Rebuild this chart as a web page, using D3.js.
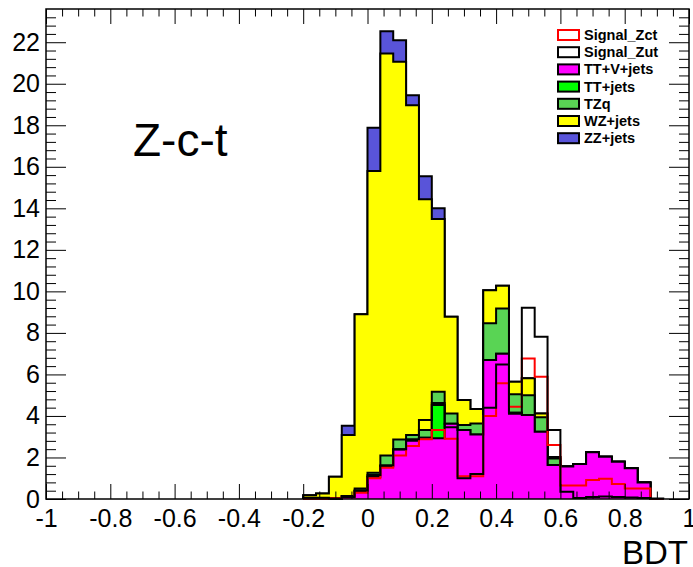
<!DOCTYPE html>
<html>
<head>
<meta charset="utf-8">
<script src="https://cdn.jsdelivr.net/npm/d3@7"></script>
<style>
  body { margin: 0; background: #fff; }
  svg { display: block; }
  text { font-family: "Liberation Sans", Arial, Helvetica, sans-serif; }
</style>
</head>
<body>
<svg id="chart" width="693" height="567"></svg>
<script>
// BDT output histograms, 0.04-wide bins (lower edges listed)
const binLow = [-0.20, -0.16, -0.12, -0.08, -0.04, 0.00, 0.04, 0.08, 0.12, 0.16,
                 0.20,  0.24,  0.28,  0.32,  0.36, 0.40, 0.44, 0.48, 0.52, 0.56,
                 0.60,  0.64,  0.68,  0.72,  0.76, 0.80, 0.84, 0.88];
const binWidth = 0.04;

// Backgrounds (stacked, bottom to top)
const ttvJets = [0, 0, 0, 0.15, 0.38, 1.07, 1.58, 2.38, 2.80, 2.95,
                 2.92, 3.62, 3.32, 3.11, 6.69, 7.00, 4.15, 4.04, 3.24, 1.64,
                 1.56, 1.68, 2.25, 2.04, 1.80, 1.48, 0.79, 0];
const ttJets  = [0, 0, 0, 0, 0, 0, 0, 0, 0, 0,
                 1.70, 0, 0, 0, 0, 0, 0, 0, 0, 0,
                 0, 0, 0, 0, 0, 0, 0, 0];
const tzq     = [0, 0, 0, 0, 0.12, 0.20, 0.52, 0.48, 0.28, 0.37,
                 0.55, 0.50, 0.24, 0.53, 1.77, 2.18, 0.90, 0.96, 0.70, 0.31,
                 0, 0, 0, 0, 0, 0, 0, 0];
const wzJets  = [0.18, 0.27, 1.07, 2.93, 8.40, 14.53, 19.36, 18.20, 15.89, 11.12,
                 8.31, 4.66, 1.21, 0.70, 1.60, 1.09, 0.60, 0.81, 0.18, 0.07,
                 0, 0, 0, 0, 0, 0, 0, 0];
const zzJets  = [0, 0, 0, 0.45, 0, 2.08, 1.07, 1.04, 0.48, 1.11,
                 0.52, 0, 0, 0, 0, 0, 0, 0, 0, 0,
                 0, 0, 0, 0, 0, 0, 0, 0];

// Signals (drawn as outlines)
const signalZct = [0, 0, 0.05, 0.08, 0.30, 1.00, 1.50, 2.10, 2.55, 2.88,
                   3.32, 2.90, 1.10, 1.10, 4.00, 5.57, 4.44, 6.77, 5.89, 2.60,
                   0.65, 0.65, 0.91, 0.98, 0.72, 0.51, 0.51, 0];
const signalZut = [0.06, 0.06, 0.03, 0.10, 0.42, 1.15, 1.62, 2.40, 2.88, 3.80,
                   4.53, 3.45, 1.00, 1.20, 4.40, 6.48, 4.10, 9.21, 7.82, 3.32,
                   0.35, 0.05, 0.10, 0.12, 0.10, 0.07, 0.05, 0.03];

const xTicks = [-1, -0.8, -0.6, -0.4, -0.2, 0, 0.2, 0.4, 0.6, 0.8, 1];
const yTicks = [0, 2, 4, 6, 8, 10, 12, 14, 16, 18, 20, 22];
const xTitle = "BDT";
const channelLabel = "Z-c-t";

const stackKeys   = ["ttv", "ttj", "tzq", "wz", "zz"];
const stackNames  = {ttv: "TT+V+jets", ttj: "TT+jets", tzq: "TZq", wz: "WZ+jets", zz: "ZZ+jets"};
const stackColors = {ttv: "#ff00ff", ttj: "#00ff00", tzq: "#59d454", wz: "#ffff00", zz: "#5954d9"};

const svg = d3.select("#chart");
const frame = {left: 46, right: 689, top: 9, bottom: 499};

const x = d3.scaleLinear().domain([-1, 1]).range([frame.left, frame.right]);
const y = d3.scaleLinear().domain([0, 23.6]).range([frame.bottom, frame.top]);

const rows = binLow.map((b, i) => ({
  ttv: ttvJets[i], ttj: ttJets[i], tzq: tzq[i], wz: wzJets[i], zz: zzJets[i]
}));
const stacked = d3.stack().keys(stackKeys)(rows);

// Histogram step outline: up from zero, across each bin, back to zero
function steps(vals) {
  const pts = [[binLow[0], 0]];
  vals.forEach((v, i) => {
    pts.push([binLow[i], v]);
    pts.push([binLow[i] + binWidth, v]);
  });
  pts.push([binLow[binLow.length - 1] + binWidth, 0]);
  return pts;
}

const area = d3.area().x(p => x(p[0])).y0(y(0)).y1(p => y(p[1]));
const line = d3.line().x(p => x(p[0])).y(p => y(p[1]));

const plot = svg.append("g");

// Cumulative histograms, drawn from the top of the stack downward
for (let s = stacked.length - 1; s >= 0; s--) {
  const cum = stacked[s].map(d => d[1]);
  const pts = steps(cum);
  plot.append("path").attr("d", area(pts))
    .attr("fill", stackColors[stacked[s].key]).attr("stroke", "none");
  plot.append("path").attr("d", line(pts))
    .attr("fill", "none").attr("stroke", "#000").attr("stroke-width", 2)
    .attr("stroke-linejoin", "miter");
}

// Signal outlines
plot.append("path").attr("d", line(steps(signalZct)))
  .attr("fill", "none").attr("stroke", "#ff0000").attr("stroke-width", 2);
plot.append("path").attr("d", line(steps(signalZut)))
  .attr("fill", "none").attr("stroke", "#000").attr("stroke-width", 2);

// Axes with inward ticks on all four sides
const fmt = d => String(+d.toFixed(1)).replace("\u2212", "-");
const xMinor = d3.range(-20, 21).map(i => i * 0.05).filter(v => Math.abs(v * 5 - Math.round(v * 5)) > 1e-6);
const yMinor = d3.range(0, 59).map(i => i * 0.4).filter(v => Math.abs(v / 2 - Math.round(v / 2)) > 1e-6);

function styleAxis(g) {
  g.select(".domain").remove();
  g.selectAll(".tick line").attr("stroke", "#000").attr("stroke-width", 1);
  g.selectAll(".tick text").attr("fill", "#000").style("font-size", "25px");
}

svg.append("g").attr("transform", `translate(0,${frame.bottom})`)
  .call(d3.axisBottom(x).tickValues(xTicks).tickSize(-15).tickPadding(10).tickFormat(fmt)).call(styleAxis);
svg.append("g").attr("transform", `translate(0,${frame.bottom})`)
  .call(d3.axisBottom(x).tickValues(xMinor).tickSize(-7.5).tickFormat("")).call(styleAxis);
svg.append("g").attr("transform", `translate(0,${frame.top})`)
  .call(d3.axisTop(x).tickValues(xTicks).tickSize(-15).tickFormat("")).call(styleAxis);
svg.append("g").attr("transform", `translate(0,${frame.top})`)
  .call(d3.axisTop(x).tickValues(xMinor).tickSize(-7.5).tickFormat("")).call(styleAxis);

svg.append("g").attr("transform", `translate(${frame.left},0)`)
  .call(d3.axisLeft(y).tickValues(yTicks).tickSize(-20).tickPadding(6).tickFormat(fmt)).call(styleAxis);
svg.append("g").attr("transform", `translate(${frame.left},0)`)
  .call(d3.axisLeft(y).tickValues(yMinor).tickSize(-10).tickFormat("")).call(styleAxis);
svg.append("g").attr("transform", `translate(${frame.right},0)`)
  .call(d3.axisRight(y).tickValues(yTicks).tickSize(-20).tickFormat("")).call(styleAxis);
svg.append("g").attr("transform", `translate(${frame.right},0)`)
  .call(d3.axisRight(y).tickValues(yMinor).tickSize(-10).tickFormat("")).call(styleAxis);

// Frame
svg.append("rect")
  .attr("x", frame.left).attr("y", frame.top)
  .attr("width", frame.right - frame.left).attr("height", frame.bottom - frame.top)
  .attr("fill", "none").attr("stroke", "#000").attr("stroke-width", 1.5);

// Axis title
svg.append("text").attr("x", frame.right - 1).attr("y", 564)
  .attr("text-anchor", "end").style("font-size", "33px").attr("fill", "#000")
  .text(xTitle);

// Channel label
svg.append("text").attr("x", 133).attr("y", 156)
  .style("font-size", "46px").attr("fill", "#000").text(channelLabel);

// Legend
const legendItems = [
  {name: "Signal_Zct", fill: "#fff", stroke: "#ff0000"},
  {name: "Signal_Zut", fill: "#fff", stroke: "#000"},
  ...["ttv", "ttj", "tzq", "wz", "zz"].map(k => ({name: stackNames[k], fill: stackColors[k], stroke: "#000"}))
];
const legend = svg.append("g").attr("transform", "translate(558,35)");
legendItems.forEach((it, i) => {
  const g = legend.append("g").attr("transform", `translate(0,${i * 17.2})`);
  g.append("rect").attr("x", 0).attr("y", -5).attr("width", 21).attr("height", 10)
    .attr("fill", it.fill).attr("stroke", it.stroke).attr("stroke-width", 2);
  g.append("text").attr("x", 26).attr("y", 5)
    .style("font-size", "14.5px").style("font-weight", "bold").attr("fill", "#000")
    .text(it.name);
});
</script>
</body>
</html>
